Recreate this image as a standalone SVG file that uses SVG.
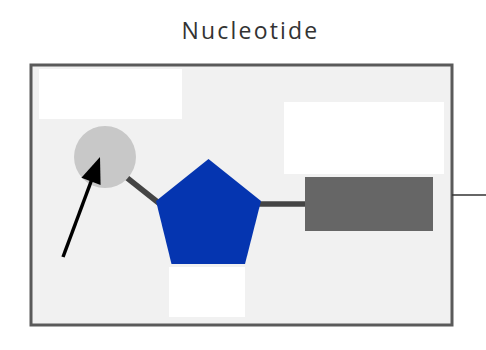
<svg xmlns="http://www.w3.org/2000/svg" width="486" height="350" viewBox="0 0 486 350">
<style>
.label{fill:#ffffff;}
.bond{stroke:#444444;stroke-width:5.5;fill:none;}
.title{font-family:"Open Sans","Liberation Sans",sans-serif;font-size:23px;fill:#333333;letter-spacing:2.2px;}
</style>
<rect width="486" height="350" fill="#ffffff"/>
<text class="title" x="250.5" y="38.5" text-anchor="middle">Nucleotide</text>
<g id="frame">
<rect x="31" y="65" width="421" height="260" fill="#f1f1f1" stroke="#5a5a5a" stroke-width="3"/>
</g>
<g id="label-phosphate"><rect class="label" x="39" y="69" width="143" height="50"/></g>
<g id="label-sugar"><rect class="label" x="169" y="267" width="76" height="50"/></g>
<g id="label-base"><rect class="label" x="284" y="102" width="160" height="72"/></g>
<g id="bonds">
<line class="bond" x1="126" y1="177" x2="160" y2="204"/>
<line class="bond" x1="258" y1="204" x2="306" y2="204"/>
</g>
<g id="phosphate"><circle cx="105" cy="157" r="31" fill="#c8c8c8"/></g>
<g id="sugar"><polygon points="208.5,159 261,201 245,264 171.5,264 156,201" fill="#0535b0"/></g>
<g id="base"><rect x="305" y="177" width="128" height="54" fill="#666666"/></g>
<g id="connectors">
<line x1="452" y1="195" x2="486" y2="195" stroke="#333333" stroke-width="1.5"/>
<line x1="63" y1="257" x2="92" y2="179" stroke="#000000" stroke-width="3.5"/>
<polygon points="100,157 100.6,185 81.4,177.8" fill="#000000"/>
</g>
</svg>
